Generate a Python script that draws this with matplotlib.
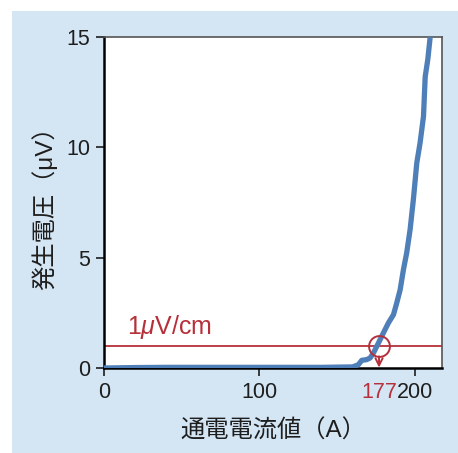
import matplotlib.pyplot as plt
from matplotlib.patches import Rectangle

plt.rcParams['font.family'] = ['Liberation Sans', 'Noto Sans CJK JP']
plt.rcParams['mathtext.fontset'] = 'custom'
plt.rcParams['mathtext.it'] = 'Liberation Sans:italic'

# 通電電流と発生電圧の測定値
current = [0, 20, 40, 60, 80, 100, 120, 140, 160, 163.7, 165.9, 169, 171.2, 173.4,
           176.6, 179.8, 183, 186.3, 188.4, 190.6, 192.7, 194.8, 197, 199.1,
           201.3, 203.4, 205.6, 206.7, 208.4, 209.9]
voltage = [0.0, 0.02, 0.03, 0.03, 0.03, 0.03, 0.03, 0.03, 0.05, 0.15, 0.35, 0.38, 0.45, 0.68,
           1.13, 1.59, 2.04, 2.42, 2.95, 3.55, 4.46, 5.22, 6.28, 7.64,
           9.3, 10.2, 11.4, 13.2, 14.0, 15.0]

criterion = 1.0      # 1μV/cm
ic = 177             # 臨界電流
xticks = [0, 100, ic, 200]
yticks = [0, 5, 10, 15]

blue = '#4f7fb8'
red = '#b5303a'
ink = '#1e1e1e'

fig = plt.figure(figsize=(4.58, 4.53), dpi=100, facecolor='white')
fig.patches.append(Rectangle((12 / 458, 0), 1, 1 - 11 / 453, transform=fig.transFigure,
                             facecolor='#d4e6f4', edgecolor='none', zorder=-10))
ax = fig.add_axes([0.227, 0.1876, 0.738, 0.7304])
ax.set_facecolor('white')

ax.plot(current, voltage, color=blue, lw=3.8, solid_capstyle='butt', zorder=3)
ax.axhline(criterion, color=red, lw=1.3, zorder=2)
ax.plot([ic], [criterion], 'o', ms=15, mfc='none', mec=red, mew=1.4, zorder=4)
ax.annotate('', xy=(ic, 0.02), xytext=(ic, criterion),
            arrowprops=dict(arrowstyle='->', color=red, lw=1.4, shrinkA=7.5, shrinkB=0,
                            mutation_scale=13), zorder=4)
ax.text(15, 1.85, '1$\\mathit{\\mu}$V/cm', color=red, fontsize=18, va='center', ha='left')

ax.set_xlim(0, 217.5)
ax.set_ylim(0, 15)
ax.set_xticks(xticks)
ax.set_xticklabels([str(v) for v in xticks])
ax.set_yticks(yticks)
ax.tick_params(axis='both', direction='out', length=6, width=1.2, labelsize=15.5,
               colors=ink, pad=4)
for tick, v in zip(ax.xaxis.get_major_ticks(), xticks):
    if v == ic:
        tick.tick1line.set_visible(False)
        tick.label1.set_color(red)

for s in ['left', 'bottom']:
    ax.spines[s].set_linewidth(1.8)
    ax.spines[s].set_color('black')
for s in ['top', 'right']:
    ax.spines[s].set_linewidth(1.2)
    ax.spines[s].set_color('#555555')

ax.set_xlabel('通電電流値（A）', fontsize=17.5, color=ink, labelpad=12)
ax.set_ylabel('発生電圧（μV）', fontsize=17.5, color=ink, labelpad=6)

fig.savefig('out.png', dpi=100, facecolor=fig.get_facecolor())
